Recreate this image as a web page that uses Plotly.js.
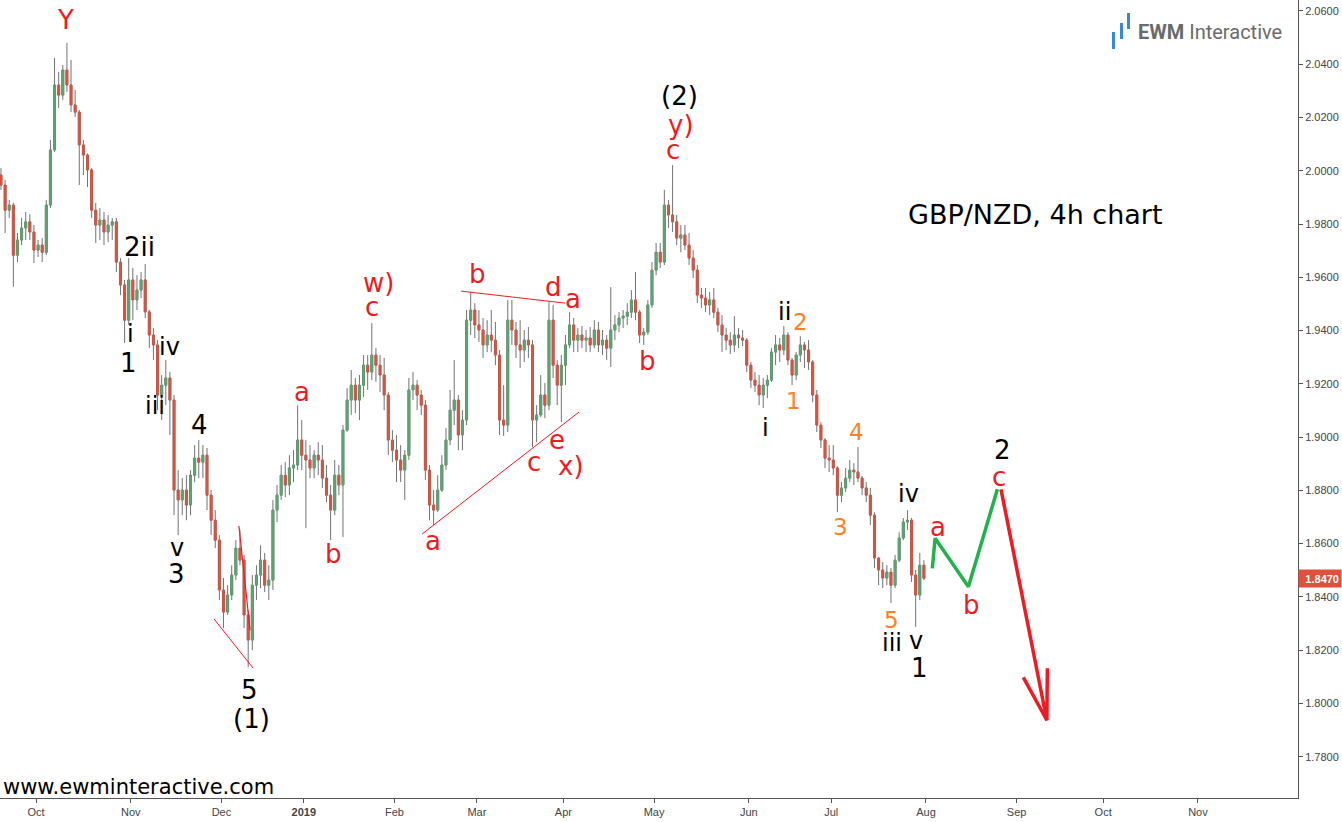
<!DOCTYPE html>
<html><head><meta charset="utf-8">
<script src="https://cdn.plot.ly/plotly-3.0.1.min.js"></script>
<style>html,body{margin:0;padding:0;background:#fff}#chart{width:1342px;height:822px}</style>
</head><body><div id="chart"></div>
<script>
// ---- GBP/NZD daily OHLC ----
const dates = [
'2018-09-18','2018-09-19','2018-09-20','2018-09-21','2018-09-24','2018-09-25','2018-09-26','2018-09-27','2018-09-28',
'2018-10-01','2018-10-02','2018-10-03','2018-10-04','2018-10-05','2018-10-08','2018-10-09','2018-10-10','2018-10-11','2018-10-12','2018-10-15','2018-10-16','2018-10-17','2018-10-18','2018-10-19','2018-10-22','2018-10-23','2018-10-24','2018-10-25','2018-10-26','2018-10-29','2018-10-30','2018-10-31',
'2018-11-01','2018-11-02','2018-11-05','2018-11-06','2018-11-07','2018-11-08','2018-11-09','2018-11-12','2018-11-13','2018-11-14','2018-11-15','2018-11-16','2018-11-19','2018-11-20','2018-11-21','2018-11-22','2018-11-23','2018-11-26','2018-11-27','2018-11-28','2018-11-29','2018-11-30',
'2018-12-03','2018-12-04','2018-12-05','2018-12-06','2018-12-07','2018-12-10','2018-12-11','2018-12-12','2018-12-13','2018-12-14','2018-12-17','2018-12-18','2018-12-19','2018-12-20','2018-12-21','2018-12-24','2018-12-26','2018-12-27','2018-12-28','2018-12-31',
'2019-01-02','2019-01-03','2019-01-04','2019-01-07','2019-01-08','2019-01-09','2019-01-10','2019-01-11','2019-01-14','2019-01-15','2019-01-16','2019-01-17','2019-01-18','2019-01-21','2019-01-22','2019-01-23','2019-01-24','2019-01-25','2019-01-28','2019-01-29','2019-01-30','2019-01-31',
'2019-02-01','2019-02-04','2019-02-05','2019-02-06','2019-02-07','2019-02-08','2019-02-11','2019-02-12','2019-02-13','2019-02-14','2019-02-15','2019-02-18','2019-02-19','2019-02-20','2019-02-21','2019-02-22','2019-02-25','2019-02-26','2019-02-27','2019-02-28',
'2019-03-01','2019-03-04','2019-03-05','2019-03-06','2019-03-07','2019-03-08','2019-03-11','2019-03-12','2019-03-13','2019-03-14','2019-03-15','2019-03-18','2019-03-19','2019-03-20','2019-03-21','2019-03-22','2019-03-25','2019-03-26','2019-03-27','2019-03-28','2019-03-29',
'2019-04-01','2019-04-02','2019-04-03','2019-04-04','2019-04-05','2019-04-08','2019-04-09','2019-04-10','2019-04-11','2019-04-12','2019-04-15','2019-04-16','2019-04-17','2019-04-18','2019-04-19','2019-04-22','2019-04-23','2019-04-24','2019-04-25','2019-04-26','2019-04-29','2019-04-30',
'2019-05-01','2019-05-02','2019-05-03','2019-05-06','2019-05-07','2019-05-08','2019-05-09','2019-05-10','2019-05-13','2019-05-14','2019-05-15','2019-05-16','2019-05-17','2019-05-20','2019-05-21','2019-05-22','2019-05-23','2019-05-24','2019-05-27','2019-05-28','2019-05-29','2019-05-30','2019-05-31',
'2019-06-03','2019-06-04','2019-06-05','2019-06-06','2019-06-07','2019-06-10','2019-06-11','2019-06-12','2019-06-13','2019-06-14','2019-06-17','2019-06-18','2019-06-19','2019-06-20','2019-06-21','2019-06-24','2019-06-25','2019-06-26','2019-06-27','2019-06-28',
'2019-07-01','2019-07-02','2019-07-03','2019-07-04','2019-07-05','2019-07-08','2019-07-09','2019-07-10','2019-07-11','2019-07-12','2019-07-15','2019-07-16','2019-07-17','2019-07-18','2019-07-19','2019-07-22','2019-07-23','2019-07-24','2019-07-25','2019-07-26','2019-07-29','2019-07-30','2019-07-31'
];
const open = [
1.9984,1.9946,1.9852,1.9871,1.9683,1.9740,1.9785,1.9808,1.9770,
1.9702,1.9721,1.9694,1.9871,2.0078,2.0322,2.0284,2.0378,2.0322,2.0247,2.0220,2.0097,2.0059,2.0003,1.9852,1.9796,1.9815,1.9770,1.9796,1.9808,1.9657,1.9571,1.9439,
1.9590,1.9515,1.9552,1.9590,1.9470,1.9383,1.9346,1.9158,1.9195,1.9222,1.9139,1.8801,1.8764,1.8801,1.8745,1.8857,1.8921,1.8906,1.8932,1.8782,1.8688,1.8613,
1.8426,1.8343,1.8407,1.8482,1.8583,1.8538,1.8332,1.8238,1.8444,1.8482,1.8538,1.8444,1.8463,1.8726,1.8782,1.8857,1.8820,1.8884,1.8895,1.8989,
1.8932,1.8914,1.8884,1.8932,1.8914,1.8846,1.8782,1.8726,1.8857,1.8820,1.9026,1.9139,1.9195,1.9139,1.9195,1.9270,1.9244,1.9308,1.9270,1.9233,1.9158,1.8989,
1.8951,1.8914,1.8876,1.8932,1.9177,1.9195,1.9158,1.9120,1.8876,1.8745,1.8726,1.8801,1.8895,1.8989,1.9101,1.9139,1.9008,1.9064,1.9439,1.9477,
1.9421,1.9402,1.9346,1.9383,1.9364,1.9308,1.9064,1.9045,1.9439,1.9402,1.9346,1.9327,1.9364,1.9346,1.9064,1.9083,1.9158,1.9120,1.9439,1.9270,1.9195,
1.9270,1.9346,1.9421,1.9364,1.9383,1.9364,1.9372,1.9346,1.9402,1.9346,1.9364,1.9334,1.9402,1.9421,1.9447,1.9454,1.9469,1.9515,1.9469,1.9383,1.9394,1.9496,
1.9627,1.9694,1.9657,1.9871,1.9834,1.9808,1.9747,1.9759,1.9721,1.9672,1.9627,1.9533,1.9522,1.9496,1.9515,1.9469,1.9421,1.9383,1.9364,1.9346,1.9383,1.9372,1.9364,
1.9270,1.9214,1.9195,1.9158,1.9195,1.9214,1.9319,1.9346,1.9327,1.9383,1.9289,1.9233,1.9308,1.9346,1.9327,1.9282,1.9158,1.9045,1.8989,1.8921,
1.8914,1.8884,1.8782,1.8809,1.8846,1.8876,1.8869,1.8846,1.8809,1.8782,1.8707,1.8546,1.8501,1.8471,1.8493,1.8444,1.8538,1.8621,1.8681,1.8688,1.8482,1.8407,1.8519
];
const high = [
2.0010,1.9965,1.9890,1.9880,1.9766,1.9823,1.9845,1.9837,1.9796,
1.9740,1.9747,1.9890,2.0115,2.0423,2.0371,2.0397,2.0480,2.0416,2.0303,2.0228,2.0115,2.0065,2.0010,1.9879,1.9860,1.9845,1.9834,1.9823,1.9823,1.9672,1.9590,1.9672,
1.9635,1.9608,1.9620,1.9650,1.9477,1.9409,1.9364,1.9233,1.9289,1.9244,1.9158,1.8876,1.8846,1.8857,1.8876,1.8970,1.8989,1.8970,1.8959,1.8801,1.8726,1.8632,
1.8471,1.8444,1.8519,1.8613,1.8651,1.8557,1.8351,1.8482,1.8519,1.8594,1.8565,1.8519,1.8764,1.8820,1.8895,1.8906,1.8932,1.8951,1.9120,1.9064,
1.8989,1.8970,1.8951,1.8981,1.8970,1.8895,1.8820,1.8914,1.8895,1.9045,1.9184,1.9252,1.9222,1.9233,1.9308,1.9308,1.9428,1.9334,1.9308,1.9297,1.9169,1.9026,
1.9008,1.8970,1.8951,1.9222,1.9244,1.9214,1.9177,1.9139,1.8895,1.8801,1.8857,1.8932,1.9034,1.9177,1.9289,1.9158,1.9101,1.9477,1.9545,1.9503,
1.9477,1.9447,1.9439,1.9477,1.9432,1.9327,1.9195,1.9515,1.9515,1.9432,1.9439,1.9402,1.9413,1.9364,1.9120,1.9233,1.9203,1.9507,1.9496,1.9289,1.9308,
1.9383,1.9469,1.9447,1.9409,1.9417,1.9402,1.9413,1.9439,1.9432,1.9402,1.9383,1.9563,1.9458,1.9469,1.9477,1.9503,1.9552,1.9620,1.9477,1.9409,1.9515,1.9657,
1.9729,1.9729,1.9928,1.9890,2.0021,1.9834,1.9796,1.9796,1.9766,1.9702,1.9646,1.9560,1.9560,1.9545,1.9560,1.9485,1.9458,1.9409,1.9394,1.9454,1.9409,1.9402,1.9372,
1.9282,1.9244,1.9233,1.9222,1.9233,1.9334,1.9383,1.9372,1.9417,1.9394,1.9297,1.9319,1.9379,1.9357,1.9364,1.9289,1.9177,1.9056,1.8996,1.8970,
1.8970,1.8891,1.8831,1.8884,1.8914,1.8902,1.8963,1.8854,1.8831,1.8809,1.8718,1.8550,1.8531,1.8519,1.8508,1.8557,1.8643,1.8696,1.8726,1.8696,1.8501,1.8565,1.8538
];
const low = [
1.9928,1.9766,1.9823,1.9564,1.9657,1.9721,1.9740,1.9740,1.9653,
1.9676,1.9657,1.9683,1.9860,2.0070,2.0235,2.0266,2.0296,2.0220,2.0202,1.9946,1.9984,1.9939,1.9823,1.9729,1.9740,1.9721,1.9732,1.9740,1.9620,1.9533,1.9353,1.9421,
1.9439,1.9477,1.9522,1.9447,1.9334,1.9289,1.9101,1.9064,1.9120,1.9008,1.8707,1.8632,1.8707,1.8688,1.8707,1.8831,1.8846,1.8846,1.8726,1.8632,1.8583,1.8388,
1.8283,1.8332,1.8388,1.8463,1.8519,1.8283,1.8136,1.8200,1.8388,1.8433,1.8418,1.8388,1.8426,1.8681,1.8764,1.8775,1.8782,1.8831,1.8876,1.8876,
1.8658,1.8846,1.8846,1.8857,1.8809,1.8756,1.8613,1.8707,1.8782,1.8625,1.9020,1.9083,1.9090,1.9064,1.9150,1.9177,1.9214,1.9207,1.9169,1.9101,1.8932,1.8906,
1.8831,1.8831,1.8764,1.8914,1.9139,1.9101,1.9083,1.8839,1.8688,1.8670,1.8718,1.8794,1.8876,1.8970,1.9045,1.8951,1.8951,1.9045,1.9383,1.9372,
1.9357,1.9297,1.9319,1.9319,1.9270,1.9008,1.9004,1.9019,1.9346,1.9297,1.9259,1.9282,1.9297,1.8963,1.8981,1.9075,1.9071,1.9101,1.9222,1.9120,1.9056,
1.9195,1.9334,1.9319,1.9319,1.9334,1.9319,1.9319,1.9334,1.9319,1.9308,1.9289,1.9263,1.9364,1.9394,1.9409,1.9421,1.9447,1.9439,1.9353,1.9346,1.9383,1.9485,
1.9608,1.9635,1.9646,1.9785,1.9770,1.9721,1.9694,1.9702,1.9646,1.9597,1.9503,1.9485,1.9469,1.9458,1.9447,1.9394,1.9319,1.9327,1.9312,1.9319,1.9334,1.9342,1.9244,
1.9184,1.9169,1.9120,1.9109,1.9146,1.9207,1.9270,1.9282,1.9308,1.9270,1.9195,1.9214,1.9282,1.9259,1.9252,1.9131,1.9019,1.8959,1.8884,1.8869,
1.8857,1.8718,1.8756,1.8794,1.8831,1.8820,1.8831,1.8782,1.8756,1.8670,1.8508,1.8444,1.8433,1.8444,1.8377,1.8433,1.8531,1.8613,1.8651,1.8456,1.8287,1.8388,1.8463
];
const close = [
1.9946,1.9852,1.9871,1.9683,1.9740,1.9785,1.9808,1.9770,1.9702,
1.9721,1.9694,1.9871,2.0078,2.0322,2.0284,2.0378,2.0322,2.0247,2.0220,2.0097,2.0059,2.0003,1.9852,1.9796,1.9815,1.9770,1.9796,1.9808,1.9657,1.9571,1.9439,1.9590,
1.9515,1.9552,1.9590,1.9470,1.9383,1.9346,1.9158,1.9195,1.9222,1.9139,1.8801,1.8764,1.8801,1.8745,1.8857,1.8921,1.8906,1.8932,1.8782,1.8688,1.8613,1.8426,
1.8343,1.8407,1.8482,1.8583,1.8538,1.8332,1.8238,1.8444,1.8482,1.8538,1.8444,1.8463,1.8726,1.8782,1.8857,1.8820,1.8884,1.8895,1.8989,1.8932,
1.8914,1.8884,1.8932,1.8914,1.8846,1.8782,1.8726,1.8857,1.8820,1.9026,1.9139,1.9195,1.9139,1.9195,1.9270,1.9244,1.9308,1.9270,1.9233,1.9158,1.8989,1.8951,
1.8914,1.8876,1.8932,1.9177,1.9195,1.9158,1.9120,1.8876,1.8745,1.8726,1.8801,1.8895,1.8989,1.9101,1.9139,1.9008,1.9064,1.9439,1.9477,1.9421,
1.9402,1.9346,1.9383,1.9364,1.9308,1.9064,1.9045,1.9439,1.9402,1.9346,1.9327,1.9364,1.9346,1.9064,1.9083,1.9158,1.9120,1.9439,1.9270,1.9195,1.9270,
1.9346,1.9421,1.9364,1.9383,1.9364,1.9372,1.9346,1.9402,1.9346,1.9364,1.9334,1.9402,1.9421,1.9447,1.9454,1.9469,1.9515,1.9469,1.9383,1.9394,1.9496,1.9627,
1.9694,1.9657,1.9871,1.9834,1.9808,1.9747,1.9759,1.9721,1.9672,1.9627,1.9533,1.9522,1.9496,1.9515,1.9469,1.9421,1.9383,1.9364,1.9346,1.9383,1.9372,1.9364,1.9270,
1.9214,1.9195,1.9158,1.9195,1.9214,1.9319,1.9346,1.9327,1.9383,1.9289,1.9233,1.9308,1.9346,1.9327,1.9282,1.9158,1.9045,1.8989,1.8921,1.8914,
1.8884,1.8782,1.8809,1.8846,1.8876,1.8869,1.8846,1.8809,1.8782,1.8707,1.8546,1.8501,1.8471,1.8493,1.8444,1.8538,1.8621,1.8681,1.8688,1.8482,1.8407,1.8519,1.8470
];

// axis ticks
const monthTicks = ['2018-10-01','2018-11-01','2018-12-03','2019-01-02','2019-02-01','2019-03-01','2019-04-01','2019-05-01','2019-06-03','2019-07-01','2019-08-01','2019-09-02','2019-10-01','2019-11-01'];
const monthLabels = ['Oct','Nov','Dec','<b>2019</b>','Feb','Mar','Apr','May','Jun','Jul','Aug','Sep','Oct','Nov'];
const priceTicks = [1.78,1.80,1.82,1.84,1.86,1.88,1.90,1.92,1.94,1.96,1.98,2.00,2.02,2.04,2.06];
const holidays = ['2018-12-25','2019-01-01'];

// projected path (green a-b-c) and red arrow
const projDates = ['2019-08-02 13:00','2019-08-05 05:00','2019-08-15 07:00','2019-08-26 08:00'];
const projPrices = [1.8507,1.8620,1.8438,1.8804];
const arrowDates = ['2019-08-27 05:00','2019-09-11 08:00'];
const arrowPrices = [1.8804,1.7937];
const arrowHeadDates = ['2019-09-03 15:00','2019-09-11 08:00','2019-09-11 11:00'];
const arrowHeadPrices = [1.8098,1.7937,1.8132];

// hand-drawn trend lines
const diagLowDates = ['2018-11-29 05:00','2018-12-12 16:00'];
const diagLowPrices = [1.8317,1.8133];
const diagHighDates = ['2018-12-07 06:00','2018-12-11 23:00'];
const diagHighPrices = [1.8666,1.8275];
const triLowDates = ['2019-02-11 17:00','2019-04-04 19:00'];
const triLowPrices = [1.8636,1.9094];
const triHighDates = ['2019-02-25 04:00','2019-04-01 10:00'];
const triHighPrices = [1.9548,1.9503];

// ---- drawing ----
const RED = '#ed1c24', ORG = '#ff7f27', BLK = '#000000', GRN = '#22b14c';
const WICK = '#737373', UP = '#5ba571', DOWN = '#e0503c';
const FONT = 'DejaVu Sans, Verdana, sans-serif';
const xs = dates.map(d => d + ' 12:00');
const bodyTop = open.map((o, i) => Math.max(o, close[i]));
const bodyBot = open.map((o, i) => Math.min(o, close[i]));

const traces = [
  // gray wicks
  {type:'candlestick', x:xs, open, high, low, close,
   increasing:{line:{color:WICK, width:1}, fillcolor:WICK},
   decreasing:{line:{color:WICK, width:1}, fillcolor:WICK},
   whiskerwidth:0, hoverinfo:'skip', showlegend:false},
  // coloured bodies on top
  {type:'candlestick', x:xs, open, high:bodyTop, low:bodyBot, close,
   increasing:{line:{color:UP, width:0.5}, fillcolor:UP},
   decreasing:{line:{color:DOWN, width:0.5}, fillcolor:DOWN},
   whiskerwidth:0, hoverinfo:'skip', showlegend:false},
  {type:'scatter', mode:'lines', x:diagLowDates, y:diagLowPrices, line:{color:RED, width:1}, hoverinfo:'skip', showlegend:false},
  {type:'scatter', mode:'lines', x:diagHighDates, y:diagHighPrices, line:{color:RED, width:1.2}, hoverinfo:'skip', showlegend:false},
  {type:'scatter', mode:'lines', x:triLowDates, y:triLowPrices, line:{color:RED, width:1}, hoverinfo:'skip', showlegend:false},
  {type:'scatter', mode:'lines', x:triHighDates, y:triHighPrices, line:{color:RED, width:1}, hoverinfo:'skip', showlegend:false},
  {type:'scatter', mode:'lines', x:projDates, y:projPrices, line:{color:GRN, width:3.5}, hoverinfo:'skip', showlegend:false},
  {type:'scatter', mode:'lines', x:arrowDates, y:arrowPrices, line:{color:RED, width:3.5}, hoverinfo:'skip', showlegend:false},
  {type:'scatter', mode:'lines', x:arrowHeadDates, y:arrowHeadPrices, line:{color:RED, width:3.5}, hoverinfo:'skip', showlegend:false}
];

const waveLabels = [
  ['Y','2018-10-10 01:00',2.0566,RED,26],
  ['2ii','2018-11-05 01:00',1.9714,BLK,26],
  ['i','2018-10-31 20:00',1.9387,BLK,24],
  ['1','2018-10-31 08:00',1.9278,BLK,26],
  ['iv','2018-11-14 07:00',1.9338,BLK,24],
  ['iii','2018-11-08 21:00',1.9117,BLK,24],
  ['4','2018-11-23 19:00',1.9045,BLK,26],
  ['v','2018-11-16 05:00',1.8583,BLK,24],
  ['3','2018-11-16 05:00',1.8486,BLK,26],
  ['5','2018-12-11 17:00',1.8050,BLK,26],
  ['(1)','2018-12-12 10:00',1.7941,BLK,26],
  ['a','2018-12-31 13:00',1.9169,RED,26],
  ['b','2019-01-11 02:00',1.8561,RED,26],
  ['c','2019-01-24 13:00',1.9490,RED,26],
  ['w)','2019-01-28 01:00',1.9578,RED,26],
  ['a','2019-02-14 09:00',1.8610,RED,26],
  ['b','2019-03-01 01:00',1.9612,RED,26],
  ['d','2019-03-27 17:00',1.9563,RED,26],
  ['a','2019-04-03 08:00',1.9518,RED,26],
  ['c','2019-03-20 21:00',1.8906,RED,26],
  ['e','2019-03-28 10:00',1.8989,RED,26],
  ['x)','2019-04-02 20:00',1.8891,RED,26],
  ['b','2019-04-29 07:00',1.9285,RED,26],
  ['(2)','2019-05-09 07:00',2.0280,BLK,26],
  ['y)','2019-05-09 13:00',2.0172,RED,26],
  ['c','2019-05-07 15:00',2.0078,RED,26],
  ['ii','2019-06-13 13:00',1.9469,BLK,24],
  ['2','2019-06-19 11:00',1.9432,ORG,23],
  ['i','2019-06-06 23:00',1.9034,BLK,24],
  ['1','2019-06-17 23:00',1.9135,ORG,23],
  ['4','2019-07-09 06:00',1.9019,ORG,23],
  ['3','2019-07-03 04:00',1.8662,ORG,23],
  ['iv','2019-07-25 16:00',1.8786,BLK,24],
  ['5','2019-07-19 18:00',1.8313,ORG,23],
  ['iii','2019-07-19 18:00',1.8227,BLK,24],
  ['v','2019-07-29 14:00',1.8234,BLK,24],
  ['1','2019-07-30 08:00',1.8133,BLK,26],
  ['a','2019-08-05 22:00',1.8662,RED,26],
  ['b','2019-08-16 04:00',1.8369,RED,26],
  ['c','2019-08-26 18:00',1.8852,RED,26],
  ['2','2019-08-27 11:00',1.8950,BLK,26]
];

const annotations = waveLabels.map(([t, x, y, c, s]) => ({
  text:t, x, y, xref:'x', yref:'y', showarrow:false, xanchor:'center', yanchor:'middle',
  font:{family:FONT, size:s, color:c}
}));

const PW = 1298, PH = 798;  // plot area size in px
annotations.push(
  {text:'GBP/NZD, 4h chart', xref:'paper', yref:'paper', x:1035/PW, y:1-214/PH, showarrow:false,
   xanchor:'center', yanchor:'middle', font:{family:FONT, size:27, color:'#000'}},
  {text:'www.ewminteractive.com', xref:'paper', yref:'paper', x:1/PW, y:1-787/PH, showarrow:false,
   xanchor:'left', yanchor:'middle', font:{family:FONT, size:21, color:'#000'}},
  {text:'<b>EWM</b> Interactive', xref:'paper', yref:'paper', x:1284/PW, y:1-32/PH, showarrow:false,
   xanchor:'right', yanchor:'middle', font:{family:'Roboto, sans-serif', size:20, color:'#6a6a6a'}},
  {text:'<b>' + close[close.length-1].toFixed(4) + '</b>', xref:'paper', yref:'y', x:1, y:close[close.length-1],
   showarrow:false, xanchor:'left', yanchor:'middle', align:'right', width:38, height:13, borderpad:2,
   bgcolor:'#e0503c', font:{family:'Liberation Sans, Arial, sans-serif', size:11, color:'#ffffff'}}
);

const logoBars = [[1113.5,32,49],[1121.5,23,39],[1128.5,13,29]];
const shapes = logoBars.map(([x, y0, y1]) => ({
  type:'line', xref:'paper', yref:'paper', x0:x/PW, x1:x/PW, y0:1-y0/PH, y1:1-y1/PH,
  line:{color:'#3a87d5', width:3}
}));

const layout = {
  width:1342, height:822,
  margin:{l:0, r:44, t:0, b:24, pad:0},
  paper_bgcolor:'#ffffff', plot_bgcolor:'#ffffff',
  showlegend:false, hovermode:false,
  xaxis:{
    type:'date', range:['2018-09-18 06:15','2019-12-05 07:00'],
    rangebreaks:[{bounds:['sat','mon']}, {values:holidays}],
    rangeslider:{visible:false},
    tickmode:'array', tickvals:monthTicks, ticktext:monthLabels,
    showgrid:false, zeroline:false, showline:true, linecolor:'#555555', linewidth:1,
    ticks:'outside', ticklen:4, tickcolor:'#555555',
    tickfont:{family:'Liberation Sans, Arial, sans-serif', size:11, color:'#444444'}
  },
  yaxis:{
    side:'right', range:[1.7645, 2.0641], tickmode:'array', tickvals:priceTicks,
    tickformat:'.4f', showgrid:false, zeroline:false, showline:true, linecolor:'#555555', linewidth:1,
    ticks:'outside', ticklen:4, tickcolor:'#555555',
    tickfont:{family:'Liberation Sans, Arial, sans-serif', size:11, color:'#444444'}
  },
  annotations, shapes
};

Plotly.newPlot('chart', traces, layout, {displayModeBar:false, staticPlot:true});
</script>
</body></html>
